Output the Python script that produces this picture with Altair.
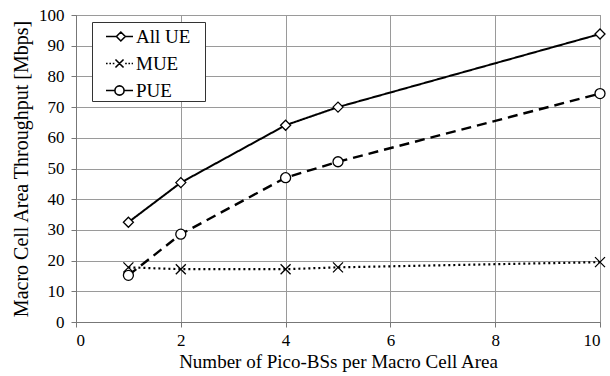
import altair as alt
import pandas as pd

# Number of pico base stations per macro cell area
pico_bs = [1, 2, 4, 5, 10]

# Macro cell area throughput [Mbps]
all_ue = [32.5, 45.4, 64.1, 70.0, 93.8]
mue = [17.8, 17.2, 17.2, 17.8, 19.5]
pue = [15.2, 28.6, 47.0, 52.2, 74.4]

series_names = ["All UE", "MUE", "PUE"]
series_values = [all_ue, mue, pue]

rows = []
for name, vals in zip(series_names, series_values):
    for x, v in zip(pico_bs, vals):
        rows.append({"pico": x, "thr": v, "series": name})
df = pd.DataFrame(rows)

FONT = "Liberation Serif"
GRID = "#9a9a9a"

# marker shapes used on the curves
X_PATH = "M-1,-1L1,1M-1,1L1,-1"
marker_range = ["diamond", X_PATH, "circle"]

# legend glyphs: a short line sample with the marker drawn on it
LEG_ALL = "M-1,0H-0.23L0.1,-0.33L0.43,0L0.1,0.33L-0.23,0ZM0.43,0H1"
LEG_MUE = ("M-1,0h0.12M-0.75,0h0.12M-0.5,0h0.12"
           "M-0.3,-0.3L0.3,0.3M-0.3,0.3L0.3,-0.3"
           "M0.42,0h0.12M0.66,0h0.12M0.9,0h0.1")
LEG_PUE = ("M-1,0H-0.36M-0.34,0A0.34,0.34,0,1,0,0.34,0A0.34,0.34,0,1,0,-0.34,0Z"
           "M0.36,0H1")
legend_range = [LEG_ALL, LEG_MUE, LEG_PUE]

x_enc = alt.X(
    "pico:Q",
    scale=alt.Scale(domain=[0, 10], nice=False),
    axis=alt.Axis(
        values=[0, 2, 4, 6, 8, 10],
        title="Number of Pico-BSs per Macro Cell Area",
        titleFontSize=19,
        titlePadding=4,
        labelPadding=5,
    ),
)
y_enc = alt.Y(
    "thr:Q",
    scale=alt.Scale(domain=[0, 100], nice=False),
    axis=alt.Axis(
        values=list(range(0, 101, 10)),
        title="Macro Cell Area Throughput [Mbps]",
        titleFontSize=20,
        titlePadding=7,
        labelPadding=7,
    ),
)

lines = alt.Chart(df).mark_line(color="black").encode(
    x=x_enc,
    y=y_enc,
    detail="series:N",
    strokeDash=alt.StrokeDash(
        "series:N",
        scale=alt.Scale(domain=series_names, range=[[1, 0], [2, 3], [10, 6]]),
        legend=None,
    ),
    strokeWidth=alt.StrokeWidth(
        "series:N",
        scale=alt.Scale(domain=series_names, range=[2, 2.4, 2.6]),
        legend=None,
    ),
)

points = alt.Chart(df).mark_point(
    filled=True, fill="white", stroke="black", strokeWidth=1.3, opacity=1, size=100
).encode(
    x=x_enc,
    y=y_enc,
    shape=alt.Shape(
        "series:N",
        scale=alt.Scale(domain=series_names, range=marker_range),
        legend=None,
    ),
)

# legend-only layer: no rows reach the marks, the legend comes from the scale
legend_layer = (
    alt.Chart(df)
    .transform_filter("datum.pico < 0")
    .mark_point(filled=False, color="black", strokeWidth=1.6, opacity=1)
    .encode(
        x=x_enc,
        y=y_enc,
        shape=alt.Shape(
            "series:N",
            scale=alt.Scale(domain=series_names, range=legend_range),
            legend=alt.Legend(
                title=None,
                orient="none",
                legendX=16,
                legendY=7,
                padding=0,
                rowPadding=2,
                symbolSize=729,
                symbolOffset=13,
                symbolOpacity=1,
                symbolFillColor="white",
                symbolStrokeColor="black",
                symbolStrokeWidth=1.6,
                labelOffset=2,
                labelFont=FONT,
                labelFontSize=19,
                labelColor="black",
                # blank braille cell keeps some room after the text
                labelExpr="datum.label + '\u2800'",
                strokeColor="#333333",
                fillColor="white",
            ),
        ),
    )
)

chart = (
    alt.layer(lines, points, legend_layer)
    .resolve_scale(shape="independent")
    .properties(
        width=524,
        height=307,
        autosize=alt.AutoSizeParams(type="none"),
        padding={"left": 76, "top": 15, "right": 10, "bottom": 54},
    )
    .configure_view(stroke="#777777", strokeWidth=1)
    .configure_axis(
        labelFont=FONT,
        titleFont=FONT,
        labelFontSize=17,
        titleFontWeight="normal",
        labelColor="black",
        titleColor="black",
        gridColor=GRID,
        gridOpacity=1,
        domainColor="#777777",
        tickColor="#777777",
        tickSize=5,
    )
)

chart.save("out.html", embed_options={"renderer": "svg", "actions": False})
